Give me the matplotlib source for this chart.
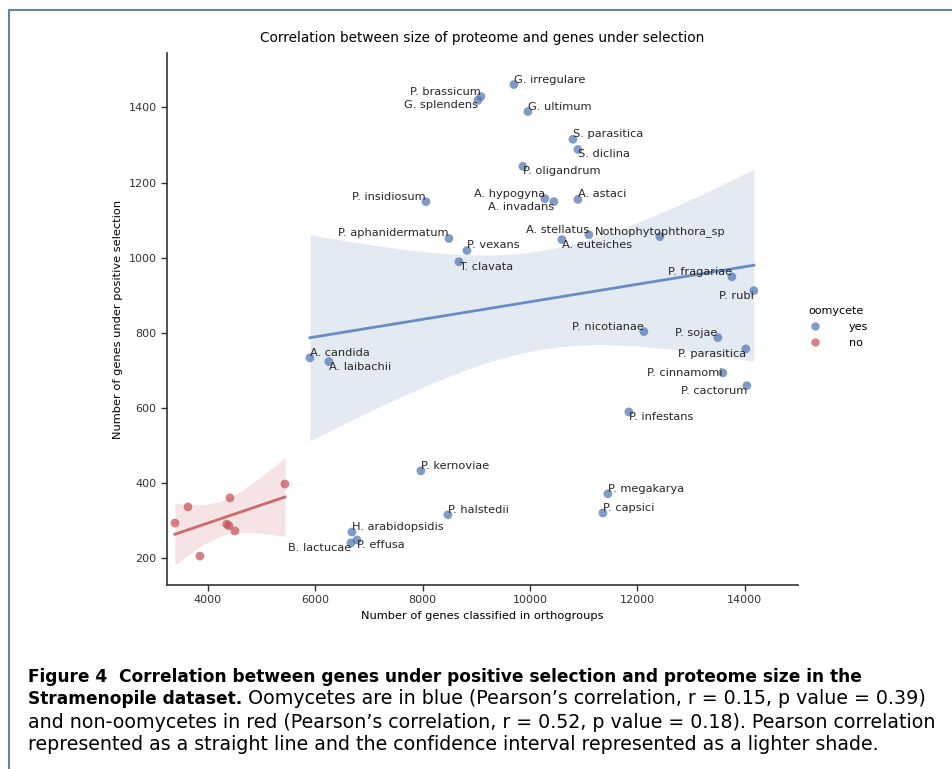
import numpy as np
import matplotlib
matplotlib.use("Agg")
import matplotlib.pyplot as plt
from matplotlib.lines import Line2D

# oomycetes (labelled)
species = [
    "G. irregulare", "P. brassicum", "G. splendens", "G. ultimum",
    "S. parasitica", "S. diclina", "P. oligandrum", "A. hypogyna",
    "A. invadans", "A. astaci", "P. insidiosum", "P. aphanidermatum",
    "P. vexans", "A. stellatus", "Nothophytophthora_sp", "A. euteiches",
    "T. clavata", "P. fragariae", "P. rubi", "P. nicotianae",
    "P. sojae", "P. parasitica", "P. cinnamomi", "P. cactorum",
    "P. infestans", "A. candida", "A. laibachii", "P. kernoviae",
    "P. halstedii", "H. arabidopsidis", "P. effusa", "B. lactucae",
    "P. megakarya", "P. capsici",
]
orthogroup_genes = np.array([
    9698, 9084, 9028, 9959,
    10797, 10890, 9866, 10276,
    10443, 10890, 8060, 8488,
    8823, 11095, 12417, 10592,
    8674, 13758, 14168, 12119,
    13497, 14019, 13590, 14037,
    11840, 5899, 6253, 7966,
    8469, 6682, 6775, 6663,
    11449, 11356,
])
selected_genes = np.array([
    1461, 1429, 1419, 1389,
    1315, 1288, 1243, 1157,
    1149, 1155, 1149, 1051,
    1019, 1061, 1056, 1048,
    989, 949, 912, 803,
    787, 757, 693, 659,
    589, 733, 723, 432,
    315, 269, 248, 240,
    371, 320,
])
# where each name sits around its point
label_side = [
    "ur", "ul", "ll", "ur",
    "ur", "lr", "lr", "ul",
    "ll", "ur", "ul", "ul",
    "ur", "ul", "uc", "lr",
    "lr", "ul", "ll", "ul",
    "ul", "ll", "cl", "ll",
    "lr", "ur", "lr", "ur",
    "ur", "ur", "lr", "ll",
    "ur", "ur",
]

# non-oomycetes
other_orthogroup_genes = np.array([3385, 3628, 3851, 4410, 4350, 4390, 4503, 5434])
other_selected_genes = np.array([293, 336, 205, 360, 290, 286, 272, 397])

blue = "#4C72B0"
red = "#C44E52"


def fit_band(x, y, tcrit, n=100):
    # least squares line with a 95% confidence band for the mean
    slope, icept = np.polyfit(x, y, 1)
    grid = np.linspace(x.min(), x.max(), n)
    fit = icept + slope * grid
    resid = y - (icept + slope * x)
    s = np.sqrt(np.sum(resid ** 2) / (len(x) - 2))
    se = s * np.sqrt(1 / len(x) + (grid - x.mean()) ** 2 / np.sum((x - x.mean()) ** 2))
    return grid, fit, fit - tcrit * se, fit + tcrit * se


fig = plt.figure(figsize=(9.53, 7.69), dpi=100)
ax = fig.add_axes([167 / 953, 1 - 585 / 769, 631 / 953, 532 / 769])

for x, y, col, line_col, band_col, t in [
    (orthogroup_genes, selected_genes, blue, "#6a8cc6", "#e4eaf2", 2.037),
    (other_orthogroup_genes, other_selected_genes, red, "#cd6a6c", "#f6e4e5", 2.447),
]:
    ax.scatter(x, y, s=40, color=col, alpha=0.7, edgecolors="none", zorder=3)
    gx, fit, lo, hi = fit_band(x.astype(float), y.astype(float), t)
    ax.fill_between(gx, lo, hi, color=band_col, linewidth=0, zorder=1)
    ax.plot(gx, fit, color=line_col, linewidth=2, zorder=2)

align = {
    "ur": ("left", "bottom"), "ul": ("right", "bottom"),
    "lr": ("left", "top"), "ll": ("right", "top"),
    "uc": ("center", "bottom"), "cl": ("right", "center"),
}
for name, x, y, side in zip(species, orthogroup_genes, selected_genes, label_side):
    ha, va = align[side]
    ax.text(x, y, name, ha=ha, va=va, fontsize=8.2, color="#262626", zorder=4)

ax.set_xlim(3237, 14990)
ax.set_ylim(128, 1545)
ax.set_xticks(np.arange(4000, 14001, 2000))
ax.set_yticks(np.arange(200, 1401, 200))
ax.tick_params(labelsize=8, length=4, width=1, colors="#333333")
for side in ["top", "right"]:
    ax.spines[side].set_visible(False)
for side in ["left", "bottom"]:
    ax.spines[side].set_color("#333333")
    ax.spines[side].set_linewidth(1.2)

ax.set_xlabel("Number of genes classified in orthogroups", fontsize=8.2)
ax.set_ylabel("Number of genes under positive selection", fontsize=8.2)
ax.set_title("Correlation between size of proteome and genes under selection", fontsize=9.8, pad=8)

handles = [
    Line2D([], [], marker="o", linestyle="none", markersize=6, color=blue, alpha=0.7, markeredgewidth=0),
    Line2D([], [], marker="o", linestyle="none", markersize=6, color=red, alpha=0.7, markeredgewidth=0),
]
fig.legend(handles, ["yes", "no"], title="oomycete", loc="center",
           bbox_to_anchor=(836 / 953, 1 - 327 / 769), frameon=False,
           fontsize=8, title_fontsize=8, handletextpad=2.1)

# caption lines
cap_font = "DejaVu Sans"
renderer = fig.canvas.get_renderer()
x0 = 28 / 953
cap1 = "Figure 4  Correlation between genes under positive selection and proteome size in the"
cap2_bold = "Stramenopile dataset."
cap2 = " Oomycetes are in blue (Pearson\u2019s correlation, r = 0.15, p value = 0.39)"
cap3 = "and non-oomycetes in red (Pearson\u2019s correlation, r = 0.52, p value = 0.18). Pearson correlation"
cap4 = "represented as a straight line and the confidence interval represented as a lighter shade."


def fit_size(txt, weight, width_px):
    # font size at which txt spans width_px
    probe = fig.text(0, 0, txt, fontsize=12, weight=weight, family=cap_font)
    w = probe.get_window_extent(renderer=renderer).width
    probe.remove()
    return 12 * width_px / w


sizes = {"bold": fit_size(cap1, "bold", 834), "normal": fit_size(cap3, "normal", 904)}


def cap_line(parts, ypx):
    x = x0
    for txt, weight in parts:
        t = fig.text(x, 1 - ypx / 769, txt, fontsize=sizes[weight], weight=weight,
                     va="center", ha="left", color="black", family=cap_font)
        bb = t.get_window_extent(renderer=renderer)
        x += bb.width / fig.bbox.width


cap_line([(cap1, "bold")], 677)
cap_line([(cap2_bold, "bold"), (cap2, "normal")], 699)
cap_line([(cap3, "normal")], 722)
cap_line([(cap4, "normal")], 745)

# frame around the figure
frame_col = "#6683a6"
fig.add_artist(Line2D([9 / 953, 1], [1 - 10 / 769, 1 - 10 / 769], color=frame_col, linewidth=1.5))
fig.add_artist(Line2D([9 / 953, 9 / 953], [0, 1 - 10 / 769], color=frame_col, linewidth=1.5))

fig.savefig("out.png", dpi=100)
